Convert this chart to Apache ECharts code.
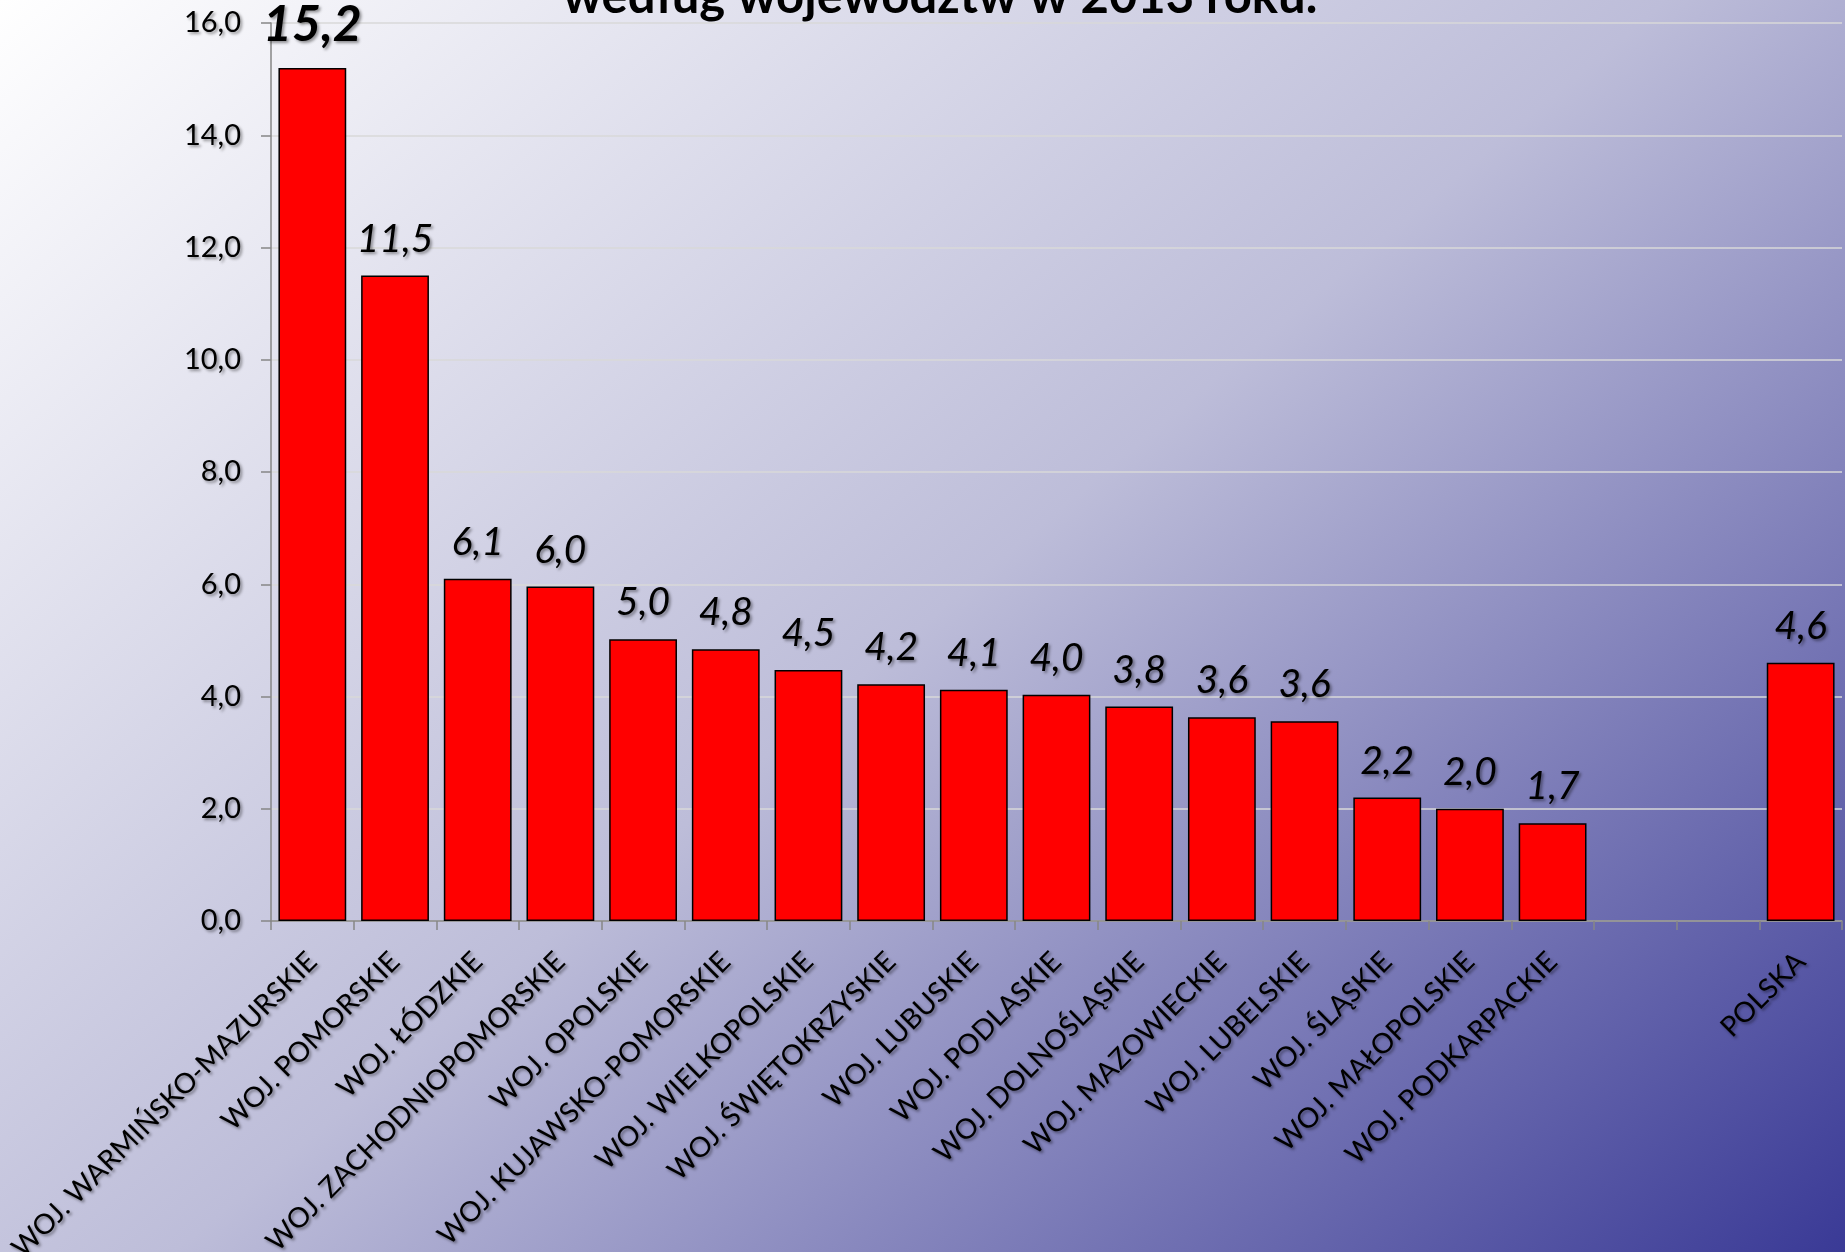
<!DOCTYPE html>
<html>
<head>
<meta charset="utf-8">
<script src="https://cdn.jsdelivr.net/npm/echarts@6/dist/echarts.min.js"></script>
<style>
  html, body { margin: 0; padding: 0; }
  #chart { width: 1845px; height: 1252px; }
</style>
</head>
<body>
<div id="chart"></div>
<script>
// dane
const titleText = 'według województw w 2013 roku.';
const categories = [
  'WOJ. WARMIŃSKO-MAZURSKIE', 'WOJ. POMORSKIE', 'WOJ. ŁÓDZKIE', 'WOJ. ZACHODNIOPOMORSKIE',
  'WOJ. OPOLSKIE', 'WOJ. KUJAWSKO-POMORSKIE', 'WOJ. WIELKOPOLSKIE', 'WOJ. ŚWIĘTOKRZYSKIE',
  'WOJ. LUBUSKIE', 'WOJ. PODLASKIE', 'WOJ. DOLNOŚLĄSKIE', 'WOJ. MAZOWIECKIE',
  'WOJ. LUBELSKIE', 'WOJ. ŚLĄSKIE', 'WOJ. MAŁOPOLSKIE', 'WOJ. PODKARPACKIE',
  '', '', 'POLSKA'
];
const values = [15.2, 11.5, 6.1, 5.96, 5.02, 4.84, 4.47, 4.22, 4.12, 4.03, 3.82, 3.63, 3.56, 2.2, 2.0, 1.74, null, null, 4.6];
const yMin = 0, yMax = 16, yStep = 2;

const fmt = v => v.toFixed(1).replace('.', ',');
const shadow = {
  textShadowColor: 'rgba(0,0,0,0.4)',
  textShadowBlur: 3,
  textShadowOffsetX: 2,
  textShadowOffsetY: 2
};

const chart = echarts.init(document.getElementById('chart'));

const barData = values.map((v, i) => {
  if (v == null) return null;
  if (i === 0) {
    return { value: v, label: { fontSize: 50, fontWeight: 'bold', distance: 18 } };
  }
  return v;
});

chart.setOption({
  animation: false,
  backgroundColor: {
    type: 'linear', global: true,
    x: 0, y: 0, x2: 1376, y2: 1642,
    colorStops: [
      { offset: 0, color: '#ffffff' },
      { offset: 0.5, color: '#bdbdd9' },
      { offset: 1, color: '#3a3a96' }
    ]
  },
  graphic: [{
    type: 'text',
    x: 940, y: -3,
    style: {
      text: titleText,
      fill: '#000',
      font: 'bold 49px Lato',
      align: 'center',
      verticalAlign: 'middle',
      shadowColor: 'rgba(0,0,0,0.4)', shadowBlur: 3, shadowOffsetX: 2, shadowOffsetY: 2
    }
  }],
  grid: { left: 271, right: 3, top: 23, bottom: 331, containLabel: false, outerBoundsMode: 'none' },
  xAxis: {
    type: 'category',
    data: categories,
    axisLine: { lineStyle: { color: '#868686', width: 1.5 } },
    axisTick: { show: true, length: 9, lineStyle: { color: '#868686', width: 1.5 } },
    axisLabel: Object.assign({
      interval: 0, rotate: 45, margin: 36,
      fontFamily: 'Lato', fontSize: 28, color: '#000'
    }, shadow)
  },
  yAxis: {
    type: 'value',
    min: yMin, max: yMax, interval: yStep,
    axisLine: { show: true, lineStyle: { color: '#868686', width: 1.5 } },
    axisTick: { show: true, length: 10, lineStyle: { color: '#868686', width: 1.5 } },
    splitLine: { lineStyle: { color: '#d9d9d9', width: 1.5 } },
    axisLabel: Object.assign({
      margin: 30, fontFamily: 'Lato', fontSize: 29, color: '#000',
      formatter: fmt
    }, shadow)
  },
  series: [{
    type: 'bar',
    data: barData,
    barCategoryGap: '18%',
    itemStyle: { color: '#ff0000', borderColor: '#000', borderWidth: 1.5 },
    label: Object.assign({
      show: true, position: 'top', distance: 17,
      fontFamily: 'Lato', fontStyle: 'italic', fontSize: 39, color: '#000',
      formatter: p => fmt(p.value)
    }, shadow)
  }]
});
</script>
</body>
</html>
